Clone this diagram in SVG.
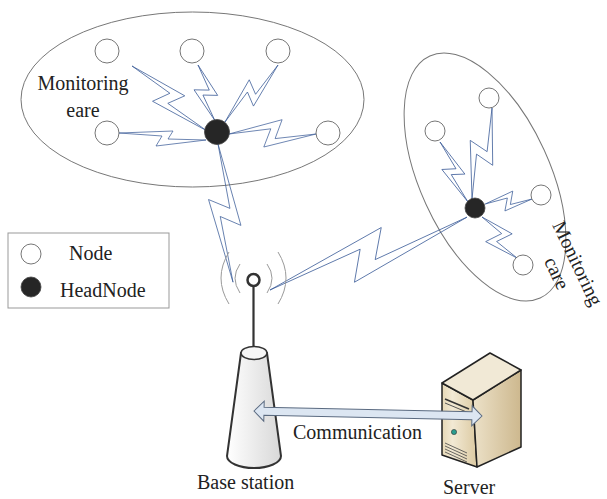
<svg xmlns="http://www.w3.org/2000/svg" width="607" height="499" viewBox="0 0 607 499">
  <defs>
    <style>
      .lbl { font-family: "Liberation Serif", "Times New Roman", serif; font-size: 20px; fill: #222; }
      .area { fill: none; stroke: #777; stroke-width: 1; }
      .node { fill: #fff; stroke: #666; stroke-width: 0.9; }
      .head { fill: #262626; stroke: #444; stroke-width: 0.8; }
      .bolt { fill: none; stroke: #3f5f9a; stroke-width: 0.75; stroke-linejoin: miter; }
      .wave { fill: none; stroke: #9a9a9a; stroke-width: 1; }
      .edge { stroke: #222; stroke-width: 1.5; stroke-linejoin: round; }
    </style>
    <linearGradient id="towerFill" x1="0" y1="0" x2="1" y2="0">
      <stop offset="0" stop-color="#ffffff"/>
      <stop offset="1" stop-color="#d8d8d8"/>
    </linearGradient>
    <linearGradient id="frontFill" x1="0" y1="0" x2="1" y2="0">
      <stop offset="0" stop-color="#e6d8b6"/>
      <stop offset="0.3" stop-color="#f2e9d4"/>
      <stop offset="1" stop-color="#dccaa2"/>
    </linearGradient>
    <linearGradient id="sideFill" x1="0" y1="0" x2="1" y2="0">
      <stop offset="0" stop-color="#ece1c8"/>
      <stop offset="1" stop-color="#cdb88e"/>
    </linearGradient>
  </defs>

  <rect width="607" height="499" fill="#fff"/>

  <!-- monitoring areas -->
  <g id="area-left">
    <ellipse class="area" cx="192.5" cy="99.5" rx="171.5" ry="87.5"/>
    <text class="lbl" x="83" y="90" text-anchor="middle">Monitoring</text>
    <text class="lbl" x="83" y="117" text-anchor="middle">eare</text>
  </g>
  <g id="area-right">
    <ellipse class="area" cx="485" cy="177" rx="133" ry="65" transform="rotate(65.5 485 177)"/>
    <g transform="translate(552,225) rotate(64.5)">
      <text class="lbl" x="45.5" y="0" text-anchor="middle">Monitoring</text>
      <text class="lbl" x="45.5" y="23" text-anchor="middle">care</text>
    </g>
  </g>

  <!-- wireless links -->
  <g id="connectors">
    <polygon class="bolt" transform="translate(132,66) rotate(40.9)" points="0,0 59.4,-12 51.5,4.8 99,0 38.6,13.2 46.5,-4.2"/>
    <polygon class="bolt" transform="translate(198,65) rotate(73.1)" points="0,0 34.8,-10 30.2,4 58,0 22.6,11 27.3,-3.5"/>
    <polygon class="bolt" transform="translate(278,65) rotate(132.9)" points="0,0 46.8,-10 40.6,4 78,0 30.4,11 36.7,-3.5"/>
    <polygon class="bolt" points="119,133 173,131 168,139 206,140 156,146 162,136"/>
    <polygon class="bolt" transform="translate(316,134) rotate(180)" points="0,0 52.2,-13 45.2,5.2 87,0 33.9,14.3 40.9,-4.6"/>
    <polygon class="bolt" transform="translate(218,144) rotate(83.8)" points="0,0 83.4,-14 72.3,5.6 139,0 54.2,15.4 65.3,-4.9"/>
    <polygon class="bolt" transform="translate(440,142) rotate(65)" points="0,0 39.6,-9 34.3,3.6 66,0 25.7,9.9 31,-3.2"/>
    <polygon class="bolt" transform="translate(492,108) rotate(102.4)" points="0,0 55.8,-13 48.4,5.2 93,0 36.3,14.3 43.7,-4.6"/>
    <polygon class="bolt" transform="translate(532,199) rotate(173.9)" points="0,0 28.2,-9 24.4,3.6 47,0 18.3,9.9 22.1,-3.2"/>
    <polygon class="bolt" transform="translate(482,217) rotate(49.5)" points="0,0 32.4,-12 28.1,4.8 54,0 21.1,13.2 25.4,-4.2"/>
    <polygon class="bolt" transform="translate(270,290) rotate(-20.3)" points="0,0 126,-20 109.2,8 210,0 81.9,22 98.7,-7"/>
  </g>

  <!-- sensor nodes, left area -->
  <g id="node-l1"><circle class="node" cx="107" cy="51" r="12"/></g>
  <g id="node-l2"><circle class="node" cx="192" cy="51" r="12"/></g>
  <g id="node-l3"><circle class="node" cx="278" cy="51" r="12"/></g>
  <g id="node-l4"><circle class="node" cx="107" cy="133" r="12"/></g>
  <g id="node-l5"><circle class="node" cx="328" cy="133" r="12"/></g>
  <g id="head-left"><circle class="head" cx="217" cy="132" r="12.5"/></g>

  <!-- sensor nodes, right area -->
  <g id="node-r1"><circle class="node" cx="489" cy="98" r="10"/></g>
  <g id="node-r2"><circle class="node" cx="435" cy="131" r="10"/></g>
  <g id="node-r3"><circle class="node" cx="541" cy="195" r="10"/></g>
  <g id="node-r4"><circle class="node" cx="523" cy="265" r="10"/></g>
  <g id="head-right"><circle class="head" cx="475" cy="208" r="10"/></g>

  <!-- legend -->
  <g id="legend">
    <rect x="8" y="233" width="161" height="75" fill="#fff" stroke="#999" stroke-width="1"/>
    <circle class="node" cx="31" cy="254" r="10"/>
    <circle class="head" cx="31" cy="287" r="10"/>
    <text class="lbl" x="69" y="260">Node</text>
    <text class="lbl" x="60" y="297">HeadNode</text>
  </g>

  <!-- base station -->
  <g id="base-station">
    <path class="wave" d="M229 252 Q213 278 229 304"/>
    <path class="wave" d="M240 264 Q230 278 240 293"/>
    <path class="wave" d="M267 264 Q277 278 267 293"/>
    <path class="wave" d="M278 252 Q294 278 278 304"/>
    <line x1="253.5" y1="286" x2="253.5" y2="348" stroke="#333" stroke-width="2.2"/>
    <circle cx="253.5" cy="280" r="6" fill="#fff" stroke="#333" stroke-width="2.5"/>
    <path d="M241 353 L227 456 A27 12 0 0 0 281 456 L267 353 Z" fill="url(#towerFill)" stroke="#333" stroke-width="2"/>
    <ellipse cx="254" cy="353" rx="13" ry="6.5" fill="#f6f6f6" stroke="#333" stroke-width="1.5"/>
    <text class="lbl" x="197" y="489">Base station</text>
  </g>

  <!-- server -->
  <g id="server">
    <polygon class="edge" points="442,383 473,400 477,467 442,455" fill="url(#frontFill)"/>
    <polygon class="edge" points="473,400 521,370 521,447 477,467" fill="url(#sideFill)"/>
    <polygon class="edge" points="442,383 490,353 521,370 473,400" fill="#f1e9d6"/>
    <line x1="445" y1="399" x2="469" y2="409" stroke="#333" stroke-width="1.6"/>
    <line x1="445" y1="403" x2="469" y2="413" stroke="#555" stroke-width="1"/>
    <circle cx="454" cy="432" r="2.6" fill="#2a9d8f" stroke="#333" stroke-width="0.6"/>
    <line x1="445" y1="443" x2="467" y2="453" stroke="#444" stroke-width="0.8"/>
    <line x1="445" y1="446" x2="467" y2="456" stroke="#444" stroke-width="0.8"/>
    <line x1="445" y1="449" x2="467" y2="459" stroke="#444" stroke-width="0.8"/>
    <line x1="445" y1="452" x2="467" y2="462" stroke="#444" stroke-width="0.8"/>
    <text class="lbl" x="443" y="494">Server</text>
  </g>

  <!-- communication link -->
  <g id="communication">
    <polygon transform="translate(254,411) rotate(1.26)" points="0,0 10,-10 10,-4 218,-4 218,-10 228,0 218,10 218,4 10,4 10,10" fill="#dce6f2" stroke="#5a6a80" stroke-width="1"/>
    <text class="lbl" x="293" y="439">Communication</text>
  </g>
</svg>
